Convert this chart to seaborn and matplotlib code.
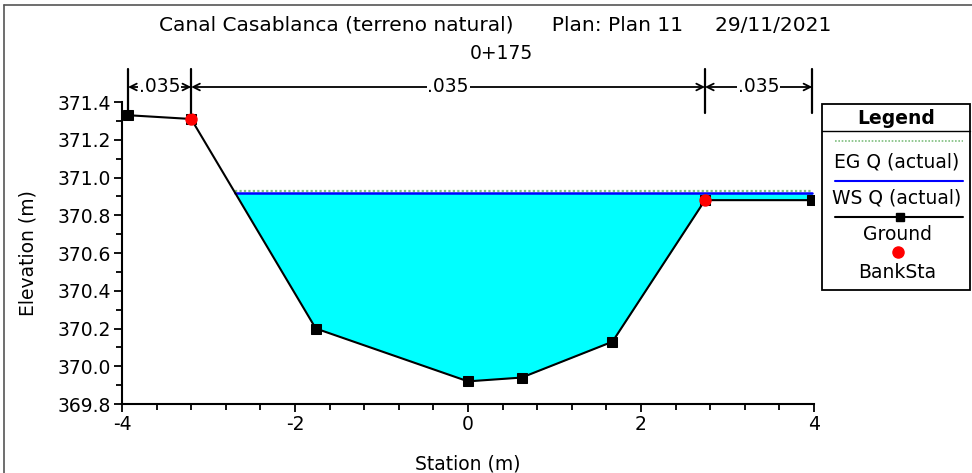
import numpy as np
import pandas as pd
import matplotlib
matplotlib.use("Agg")
import matplotlib.pyplot as plt
import matplotlib.transforms as mtransforms
from matplotlib.lines import Line2D
from matplotlib.patches import Rectangle
from matplotlib.ticker import MultipleLocator, FormatStrFormatter
import seaborn as sns

# ---- data ----
station = [-3.93, -3.20, -1.76, 0.00, 0.62, 1.67, 2.74, 3.98]
elevation = [371.33, 371.31, 370.20, 369.92, 369.94, 370.13, 370.88, 370.88]
bank_station = [-3.20, 2.74]
bank_elevation = [371.31, 370.88]
ws_elev = 370.92
eg_elev = 370.926
mann_breaks = [-3.93, -3.20, 2.74, 3.98]
mann_values = [".035", ".035", ".035"]
title_text = "Canal Casablanca (terreno natural)      Plan: Plan 11     29/11/2021"
subtitle_text = "0+175"

sns.set_style("ticks")
plt.rcParams['font.family'] = ['DejaVu Sans']
plt.rcParams['axes.unicode_minus'] = False
plt.rcParams['text.color'] = 'black'
plt.rcParams['axes.labelcolor'] = 'black'
plt.rcParams['xtick.color'] = 'black'
plt.rcParams['ytick.color'] = 'black'

FS = 13.5
W, H = 972, 473
fig = plt.figure(figsize=(W / 100, H / 100), dpi=100)
ax = fig.add_axes([122 / W, 1 - 404 / H, (814 - 122) / W, (404 - 102) / H])

ground = pd.DataFrame({"Station": station, "Elevation": elevation})
banks = pd.DataFrame({"Station": bank_station, "Elevation": bank_elevation})

# water fill
xs = np.linspace(min(station), max(station), 2000)
gs = np.interp(xs, station, elevation)
wet = gs <= ws_elev
ax.fill_between(xs, gs, ws_elev, where=wet, color="#00ffff", lw=0, zorder=1, interpolate=True)
xw = xs[wet]
ax.plot([xw.min(), xw.max()], [eg_elev, eg_elev], color="#7fbf7f", lw=1.6, ls=(0, (1, 1)), zorder=2)
ax.plot([xw.min(), xw.max()], [ws_elev, ws_elev], color="#0000ff", lw=1.8, zorder=3)

sns.lineplot(data=ground, x="Station", y="Elevation", ax=ax, color="black", lw=1.5,
             marker="s", markersize=7, markeredgecolor="black", sort=False, zorder=4)
sns.scatterplot(data=banks, x="Station", y="Elevation", ax=ax, color="red", s=80,
                edgecolor="red", linewidth=0, zorder=5)

ax.set_xlim(-4, 4)
ax.set_ylim(369.8, 371.4)
ax.xaxis.set_major_locator(MultipleLocator(2))
ax.xaxis.set_minor_locator(MultipleLocator(0.4))
ax.yaxis.set_major_locator(MultipleLocator(0.2))
ax.yaxis.set_minor_locator(MultipleLocator(0.1))
ax.yaxis.set_major_formatter(FormatStrFormatter("%.1f"))
ax.tick_params(which="major", length=6, width=1.3, labelsize=FS, color="black", labelcolor="black", pad=2)
ax.tick_params(which="minor", length=4, width=1.3, color="black")
for s in ["top", "right"]:
    ax.spines[s].set_visible(False)
for s in ["left", "bottom"]:
    ax.spines[s].set_linewidth(1.5)
    ax.spines[s].set_color("black")
ax.set_xlabel("Station (m)", fontsize=FS, color="black")
ax.set_ylabel("Elevation (m)", fontsize=FS, color="black")
ax.xaxis.set_label_coords(0.5, (404 - 464) / 302)
ax.xaxis.label.set_va("center")
ax.yaxis.set_label_coords((28 - 122) / 692, 0.5)
ax.yaxis.label.set_va("center")

# Manning's n bars
trans = mtransforms.blended_transform_factory(ax.transData, ax.transAxes)
for xb in mann_breaks:
    ax.plot([xb, xb], [(404 - 113) / 302, (404 - 69) / 302], transform=trans, color="black",
            lw=1.6, clip_on=False, zorder=6)
ya = (404 - 87) / 302
for i, lab in enumerate(mann_values):
    x0, x1 = mann_breaks[i], mann_breaks[i + 1]
    ax.annotate("", xy=(x0, ya), xytext=(x1, ya), xycoords=trans, textcoords=trans,
                arrowprops=dict(arrowstyle="<->", color="black", lw=1.3, shrinkA=0, shrinkB=0,
                                mutation_scale=12))
    ax.text((x0 + x1) / 2, ya, lab, transform=trans, ha="center", va="center", fontsize=FS,
            color="black", bbox=dict(facecolor="white", edgecolor="none", pad=0.5))

# titles
fig.text(495 / W, 1 - 25 / H, title_text, ha="center", va="center", fontsize=14.5, color="black")
fig.text(501 / W, 1 - 53 / H, subtitle_text, ha="center", va="center", fontsize=FS, color="black")

# frame
fig.add_artist(Line2D([4 / W, 4 / W], [0, 1 - 5 / H], color="#555555", lw=1.2, transform=fig.transFigure))
fig.add_artist(Line2D([4 / W, 1], [1 - 5 / H, 1 - 5 / H], color="#555555", lw=1.2, transform=fig.transFigure))

# legend box
def fx(p):
    return p / W
def fy(p):
    return 1 - p / H

fig.add_artist(Rectangle((fx(822), fy(290)), fx(970) - fx(822), fy(104) - fy(290),
                         transform=fig.transFigure, facecolor="white", edgecolor="black", lw=1.3))
fig.add_artist(Line2D([fx(822), fx(970)], [fy(131), fy(131)], color="black", lw=1.0, transform=fig.transFigure))
fig.text(fx(896), fy(118), "Legend", ha="center", va="center", fontsize=FS, fontweight="bold", color="black")
fig.add_artist(Line2D([fx(835), fx(963)], [fy(141), fy(141)], color="#7fbf7f", lw=1.2, ls=(0, (1, 1)), transform=fig.transFigure))
fig.text(fx(897), fy(162), "EG Q (actual)", ha="center", va="center", fontsize=FS, color="black")
fig.add_artist(Line2D([fx(835), fx(963)], [fy(181), fy(181)], color="#0000ff", lw=1.5, transform=fig.transFigure))
fig.text(fx(897), fy(198), "WS Q (actual)", ha="center", va="center", fontsize=FS, color="black")
fig.add_artist(Line2D([fx(835), fx(963)], [fy(217), fy(217)], color="black", lw=1.5, transform=fig.transFigure))
fig.add_artist(Line2D([fx(900)], [fy(217)], color="black", marker="s", markersize=6, lw=0, transform=fig.transFigure))
fig.text(fx(897), fy(234), "Ground", ha="center", va="center", fontsize=FS, color="black")
fig.add_artist(Line2D([fx(898)], [fy(252)], color="red", marker="o", markersize=8, lw=0, transform=fig.transFigure))
fig.text(fx(897), fy(272), "BankSta", ha="center", va="center", fontsize=FS, color="black")

fig.savefig("out.png", dpi=100)
